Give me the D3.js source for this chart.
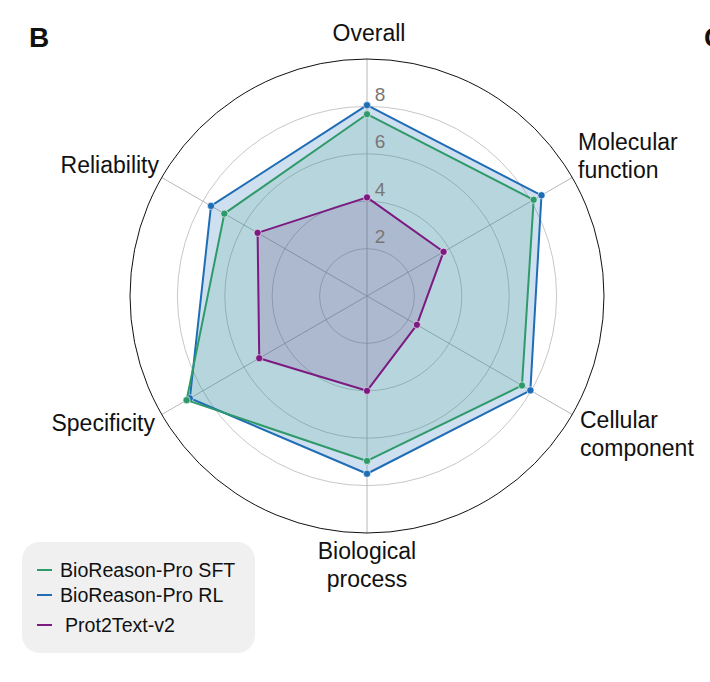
<!DOCTYPE html>
<html><head><meta charset="utf-8">
<script src="https://cdn.jsdelivr.net/npm/d3@7/dist/d3.min.js"></script>
<style>body{margin:0;background:#fff}svg{display:block}text{font-family:"Liberation Sans",Arial,sans-serif}</style>
</head><body>
<svg id="c" width="710" height="682"></svg>
<script>
const categories = ["Overall", "Molecular function", "Cellular component", "Biological process", "Specificity", "Reliability"];
const seriesNames = ["BioReason-Pro SFT", "BioReason-Pro RL", "Prot2Text-v2"];
const sftValues = [7.67, 8.12, 7.55, 6.96, 8.79, 6.95];
const rlValues = [8.05, 8.50, 7.96, 7.50, 8.63, 7.60];
const p2tValues = [4.16, 3.73, 2.43, 4.00, 5.25, 5.33];
const radialTicks = [2, 4, 6, 8];

const svg = d3.select("#c");
const cx = 367, cy = 296, R = 237;
const r = d3.scaleLinear().domain([0, 10]).range([0, R]);
const ang = d3.scalePoint().domain(categories).range([0, 2 * Math.PI * 5 / 6]);
const pt = (c, v) => [cx + r(v) * Math.sin(ang(c)), cy - r(v) * Math.cos(ang(c))];

const g = svg.append("g");
g.selectAll("circle.grid").data(radialTicks).join("circle")
  .attr("cx", cx).attr("cy", cy).attr("r", d => r(d))
  .attr("fill", "none").attr("stroke", "#c8c8c8").attr("stroke-width", 1);
g.selectAll("line.spoke").data(categories).join("line")
  .attr("x1", cx).attr("y1", cy)
  .attr("x2", d => pt(d, 10)[0]).attr("y2", d => pt(d, 10)[1])
  .attr("stroke", "#b0b0b0").attr("stroke-width", 0.9);
g.append("circle").attr("cx", cx).attr("cy", cy).attr("r", r(10))
  .attr("fill", "none").attr("stroke", "#111").attr("stroke-width", 1);

const series = [
  {name: seriesNames[1], values: rlValues, color: "#1f6db5", op: 0.22},
  {name: seriesNames[0], values: sftValues, color: "#2e9a6a", op: 0.14},
  {name: seriesNames[2], values: p2tValues, color: "#7b1a80", op: 0.15}
];
const line = d3.line().curve(d3.curveLinearClosed);
series.forEach(s => {
  const pts = categories.map((c, i) => pt(c, s.values[i]));
  g.append("path").attr("d", line(pts)).attr("fill", s.color).attr("fill-opacity", s.op).attr("stroke", "none");
});
series.forEach(s => {
  const pts = categories.map((c, i) => pt(c, s.values[i]));
  g.append("path").attr("d", line(pts)).attr("fill", "none").attr("stroke", s.color).attr("stroke-width", 2).attr("stroke-linejoin", "round");
  g.selectAll(null).data(pts).join("circle").attr("cx", d => d[0]).attr("cy", d => d[1]).attr("r", 3.6)
    .attr("fill", s.color).attr("stroke", "#fff").attr("stroke-width", 0.6);
});
g.selectAll("text.rt").data(radialTicks).join("text")
  .attr("x", cx + 13).attr("y", d => cy - r(d) - 12).attr("dy", "0.35em")
  .attr("text-anchor", "middle").attr("fill", "#777").attr("font-size", 19).text(d => d);

const labelLayout = {
  "Overall": {x: 369, y: 33, anchor: "middle"},
  "Molecular function": {x: 578, y: 142, anchor: "start"},
  "Cellular component": {x: 580, y: 420, anchor: "start"},
  "Biological process": {x: 367, y: 551, anchor: "middle"},
  "Specificity": {x: 155, y: 423, anchor: "end"},
  "Reliability": {x: 159, y: 165, anchor: "end"}
};
categories.forEach(c => {
  const L = labelLayout[c];
  const words = c.includes(" ") ? c.split(" ") : [c];
  const t = g.append("text").attr("text-anchor", L.anchor).attr("font-size", 23).attr("fill", "#111");
  words.forEach((w, i) => t.append("tspan").attr("x", L.x).attr("y", L.y + i * 28).attr("dy", "0.35em").text(w));
});

svg.append("text").attr("x", 29).attr("y", 47).attr("font-size", 28).attr("font-weight", "bold").attr("fill", "#111").text("B");
svg.append("text").attr("x", 704).attr("y", 47).attr("font-size", 28).attr("font-weight", "bold").attr("fill", "#111").text("C");

const lg = svg.append("g");
lg.append("rect").attr("x", 22).attr("y", 542).attr("width", 233).attr("height", 111).attr("rx", 18)
  .attr("fill", "#f0f0f0");
const legendItems = [
  {name: seriesNames[0], color: "#2e9a6a", y: 570, tx: 60},
  {name: seriesNames[1], color: "#1f6db5", y: 595, tx: 60},
  {name: seriesNames[2], color: "#7b1a80", y: 625, tx: 65}
];
legendItems.forEach(d => {
  lg.append("line").attr("x1", 37).attr("x2", 52).attr("y1", d.y).attr("y2", d.y).attr("stroke", d.color).attr("stroke-width", 2);
  lg.append("text").attr("x", d.tx).attr("y", d.y).attr("dy", "0.35em").attr("font-size", 19.6).attr("fill", "#111").text(d.name);
});
</script>
</body></html>
